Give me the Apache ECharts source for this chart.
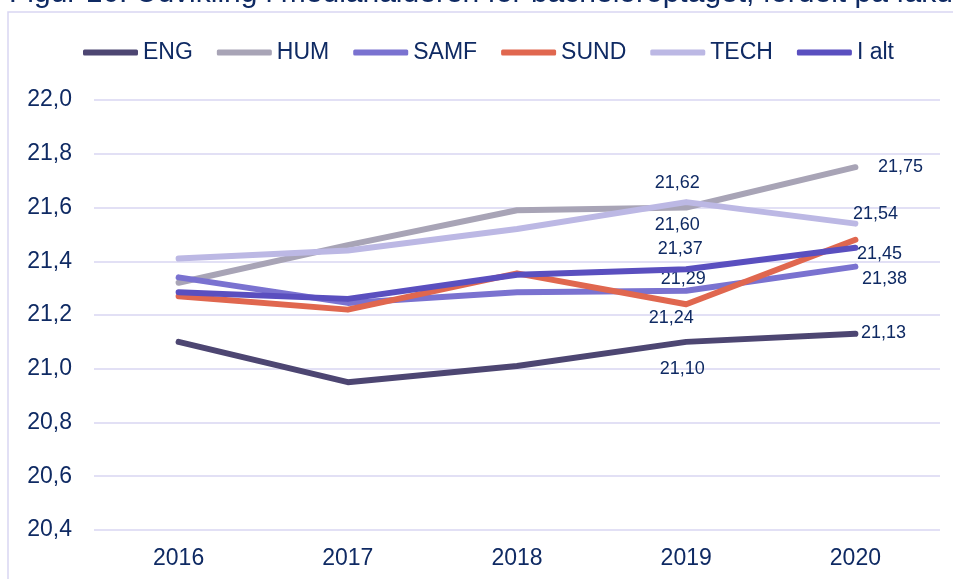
<!DOCTYPE html>
<html>
<head>
<meta charset="utf-8">
<script src="https://cdn.jsdelivr.net/npm/echarts@6/dist/echarts.min.js"></script>
<style>
html,body{margin:0;padding:0;background:#fff;}
#c{width:953px;height:579px;}
</style>
</head>
<body>
<div id="c"></div>
<script>
const years = ['2016', '2017', '2018', '2019', '2020'];
const seriesNames = ['ENG', 'HUM', 'SAMF', 'SUND', 'TECH', 'I alt'];
const ENG  = [21.10, 20.95, 21.01, 21.10, 21.13];
const HUM  = [21.32, 21.46, 21.59, 21.60, 21.75];
const SAMF = [21.34, 21.245, 21.285, 21.29, 21.38];
const SUND = [21.27, 21.22, 21.355, 21.24, 21.48];
const TECH = [21.41, 21.44, 21.52, 21.62, 21.54];
const IALT = [21.285, 21.26, 21.35, 21.37, 21.45];
const yTicks = ['20,4', '20,6', '20,8', '21,0', '21,2', '21,4', '21,6', '21,8', '22,0'];
const titleText = 'Figur 16: Udvikling i medianalderen for bacheloroptaget, fordelt på fakultet';

const colors = ['#4d4672', '#a8a4b6', '#7a72d0', '#e0674f', '#bcb8e4', '#5a4fbf'];
const textColor = '#0f2a63';
const values = [ENG, HUM, SAMF, SUND, TECH, IALT];
const FONT = 'Liberation Sans, Arial, sans-serif';

// label offsets (centered on point) for labelled points
const labelOffsets = {
  'ENG':  {3: [-4, 27], 4: [28, -1]},
  'HUM':  {3: [-9, 18], 4: [45, 0]},
  'SAMF': {3: [-3, -12], 4: [29, 12]},
  'SUND': {3: [-15, 14]},
  'TECH': {3: [-9, -19], 4: [20, -10]},
  'I alt': {3: [-6, -20], 4: [24, 6]}
};

const series = seriesNames.map((name, si) => ({
  name: name,
  type: 'line',
  symbol: 'circle',
  symbolSize: 1,
  showSymbol: true,
  lineStyle: {width: 6, color: colors[si], cap: 'round', join: 'round'},
  itemStyle: {color: colors[si]},
  z: 2 + si,
  data: values[si].map((v, i) => {
    const off = labelOffsets[name] && labelOffsets[name][i];
    if (!off) return v;
    return {
      value: v,
      label: {
        show: true,
        position: 'inside',
        offset: off,
        color: textColor,
        fontSize: 18,
        fontFamily: FONT,
        formatter: (p) => p.value.toFixed(2).replace('.', ',')
      }
    };
  })
}));

const chart = echarts.init(document.getElementById('c'));
chart.setOption({
  animation: false,
  color: colors,
  title: {
    text: titleText,
    left: 4,
    top: -26,
    textStyle: {color: textColor, fontSize: 30, fontWeight: 'normal', fontFamily: FONT}
  },
  graphic: [{
    type: 'rect',
    shape: {x: 8, y: 12, width: 1000, height: 700},
    style: {fill: 'none', stroke: '#d9d6f2', lineWidth: 1.5},
    silent: true
  }],
  legend: {
    top: 36,
    left: 78,
    itemWidth: 55,
    itemHeight: 6,
    itemGap: 24,
    icon: 'roundRect',
    textStyle: {color: textColor, fontSize: 23, fontFamily: FONT},
    data: seriesNames
  },
  grid: {left: 94, right: 13, top: 100, bottom: 49},
  xAxis: {
    type: 'category',
    data: years,
    boundaryGap: true,
    axisLine: {show: false},
    axisTick: {show: false},
    axisLabel: {color: textColor, fontSize: 23, margin: 17, fontFamily: FONT}
  },
  yAxis: {
    type: 'value',
    min: 20.4,
    max: 22.0,
    interval: 0.2,
    axisLine: {show: false},
    axisTick: {show: false},
    splitLine: {lineStyle: {color: '#d9d6f2', width: 1.5}},
    axisLabel: {
      color: textColor, fontSize: 23, margin: 22, fontFamily: FONT,
      formatter: (v) => {
        const idx = Math.round((v - 20.4) / 0.2);
        return yTicks[idx] !== undefined ? yTicks[idx] : '';
      }
    }
  },
  series: series
});
</script>
</body>
</html>
